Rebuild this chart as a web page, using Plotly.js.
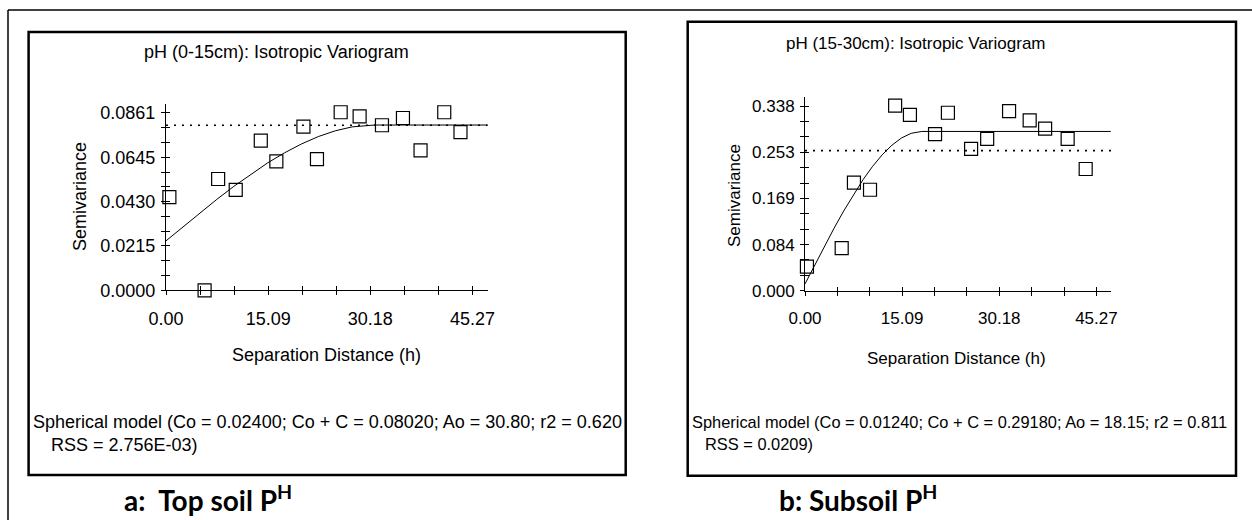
<!DOCTYPE html>
<html>
<head>
<meta charset="utf-8">
<script src="https://cdn.plot.ly/plotly-3.0.1.min.js"></script>
<style>
html,body{margin:0;padding:0;background:#fff;}
#chart{width:1252px;height:520px;}
</style>
</head>
<body>
<div id="chart"></div>
<script>
// ---------- data ----------
// Panel a: Top soil pH (0-15 cm)
const topLag      = [0.5, 5.7, 7.7, 10.3, 14.0, 16.3, 20.3, 22.3, 25.8, 28.6, 31.9, 35.0, 37.6, 41.1, 43.5];
const topGamma    = [0.0452, 0.0000, 0.0540, 0.0487, 0.0726, 0.0626, 0.0794, 0.0637, 0.0864, 0.0844, 0.0801, 0.0836, 0.0679, 0.0864, 0.0768];
const topModelLag = [0, 2.5, 5, 7.5, 10, 12.5, 15, 17.5, 20, 22.5, 25, 27.5, 30, 30.8, 47.5];
const topModelGam = [0.0240, 0.0308, 0.0376, 0.0441, 0.0504, 0.0563, 0.0618, 0.0667, 0.0710, 0.0746, 0.0774, 0.0793, 0.0801, 0.0802, 0.0802];
const topVariance = 0.0801;
const topYLabels  = ['0.0000', '0.0215', '0.0430', '0.0645', '0.0861'];

// Panel b: Subsoil pH (15-30 cm)
const subLag      = [0.3, 5.7, 7.6, 10.1, 14.0, 16.3, 20.2, 22.2, 25.8, 28.3, 31.7, 34.9, 37.3, 40.8, 43.6];
const subGamma    = [0.044, 0.078, 0.198, 0.185, 0.339, 0.322, 0.287, 0.326, 0.260, 0.278, 0.329, 0.312, 0.297, 0.278, 0.223];
const subModelLag = [0, 1.5, 3, 4.5, 6, 7.5, 9, 10.5, 12, 13.5, 15, 16.5, 18.15, 47.5];
const subModelGam = [0.0124, 0.0470, 0.0810, 0.1142, 0.1459, 0.1757, 0.2032, 0.2278, 0.2491, 0.2666, 0.2799, 0.2884, 0.2918, 0.2918];
const subVariance = 0.2566;
const subYLabels  = ['0.000', '0.084', '0.169', '0.253', '0.338'];

const xLabels = ['0.00', '15.09', '30.18', '45.27'];

// ---------- helpers ----------
const W = 1252, H = 520;
const px = v => v / W;
const py = v => 1 - v / H;
const FONT = 'Liberation Sans, Arial, sans-serif';
const FS_A = 18;   // panel a text size
const FS_B = 17;   // panel b text size (panel b is drawn slightly smaller)

function ticksFrom(labels, sub) {
  const major = [], minor = [];
  const last = parseFloat(labels[labels.length - 1]);
  const n = (labels.length - 1) * sub;
  for (let i = 0; i <= n; i++) {
    const v = last * i / n;
    if (i % sub === 0) major.push(v); else minor.push(v);
  }
  return {major, minor, text: labels.slice()};
}
const xT = ticksFrom(xLabels, 3);
const topYT = ticksFrom(topYLabels, 3);
const subYT = ticksFrom(subYLabels, 3);
const xMax = parseFloat(xLabels[xLabels.length - 1]) * 1.05;
const topYMax = parseFloat(topYLabels[topYLabels.length - 1]) * 1.05;
const subYMax = parseFloat(subYLabels[subYLabels.length - 1]) * 1.05;

function mainAxis(dom, range, t, anchor, isY, fs) {
  return {
    domain: dom, range: range, anchor: anchor,
    tickmode: 'array', tickvals: t.major, ticktext: t.text,
    ticks: 'outside', ticklen: 4, tickwidth: 1, tickcolor: '#000',
    minor: {tickmode: 'array', tickvals: t.minor, ticks: 'outside', ticklen: 4, tickwidth: 1, tickcolor: '#000', showgrid: false},
    showline: true, linecolor: '#000', linewidth: 1,
    showgrid: false, zeroline: false, fixedrange: true,
    tickfont: {family: FONT, size: fs, color: '#000'},
    ticklabelstandoff: isY ? 2 : 8
  };
}
function overlayAxis(over, dom, range, t, anchor, side) {
  return {
    overlaying: over, domain: dom, range: range, anchor: anchor, side: side,
    tickmode: 'array', tickvals: t.major,
    ticks: 'inside', ticklen: 4, tickwidth: 1, tickcolor: '#000',
    minor: {tickmode: 'array', tickvals: t.minor, ticks: 'inside', ticklen: 4, tickwidth: 1, tickcolor: '#000', showgrid: false},
    showticklabels: false, showline: false, showgrid: false, zeroline: false, fixedrange: true
  };
}

const topXDom = [px(166), px(487.8)];
const topYDom = [py(290.3), py(104.0)];
const subXDom = [px(805), px(1111)];
const subYDom = [py(290.7), py(97.0)];

const markerStyle = {symbol: 'square-open', size: 13, color: '#000', line: {width: 1.2, color: '#000'}};
const dotStyle = {color: '#000', width: 1.6, dash: '2px,6px'};

const traces = [
  // panel a
  {x: topModelLag, y: topModelGam, xaxis: 'x', yaxis: 'y', mode: 'lines', line: {color: '#000', width: 1}, hoverinfo: 'skip'},
  {x: [0, xMax], y: [topVariance, topVariance], xaxis: 'x3', yaxis: 'y3', mode: 'lines', line: dotStyle, hoverinfo: 'skip'},
  {x: topLag, y: topGamma, xaxis: 'x', yaxis: 'y', mode: 'markers', marker: markerStyle, cliponaxis: false},
  // panel b
  {x: subModelLag, y: subModelGam, xaxis: 'x2', yaxis: 'y2', mode: 'lines', line: {color: '#000', width: 1}, hoverinfo: 'skip'},
  {x: [0, xMax], y: [subVariance, subVariance], xaxis: 'x4', yaxis: 'y4', mode: 'lines', line: dotStyle, hoverinfo: 'skip'},
  {x: subLag, y: subGamma, xaxis: 'x2', yaxis: 'y2', mode: 'markers', marker: markerStyle, cliponaxis: false}
];

function ann(text, x, y, fs, opts) {
  return Object.assign({
    text: text, x: px(x), y: py(y), xref: 'paper', yref: 'paper',
    showarrow: false, xanchor: 'center', yanchor: 'middle',
    font: {family: FONT, size: fs, color: '#000'}
  }, opts || {});
}
const capFont = {family: 'Lato, Open Sans, sans-serif', size: 28, color: '#000'};

const annotations = [
  ann('pH (0-15cm): Isotropic Variogram', 276.5, 52, FS_A),
  ann('pH (15-30cm): Isotropic Variogram', 916, 43, FS_B),
  ann('Semivariance', 80, 197, FS_A, {textangle: -90}),
  ann('Semivariance', 734, 196, FS_B, {textangle: -90}),
  ann('Separation Distance (h)', 326.5, 355, FS_A),
  ann('Separation Distance (h)', 956.5, 358, FS_B),
  ann('Spherical model (Co = 0.02400; Co + C = 0.08020; Ao = 30.80; r2 = 0.620', 31, 422, FS_A, {xanchor: 'left'}),
  ann('RSS = 2.756E-03)', 49, 445, FS_A, {xanchor: 'left'}),
  ann('Spherical model (Co = 0.01240; Co + C = 0.29180; Ao = 18.15; r2 = 0.811', 690, 422, 16.4, {xanchor: 'left'}),
  ann('RSS = 0.0209)', 703, 444, 16.4, {xanchor: 'left'}),
  ann('<b>a:  Top soil P<sup>H</sup></b>', 122, 498, 28, {xanchor: 'left', font: capFont}),
  ann('<b>b: Subsoil P<sup>H</sup></b>', 777, 498, 28, {xanchor: 'left', font: capFont})
];

const shapes = [
  // outer frame (top and left edges)
  {type: 'line', xref: 'paper', yref: 'paper', x0: px(8), x1: 1, y0: py(10), y1: py(10), line: {color: '#000', width: 1.5}},
  {type: 'line', xref: 'paper', yref: 'paper', x0: px(8), x1: px(8), y0: py(10), y1: 0, line: {color: '#000', width: 1.5}},
  // panel boxes
  {type: 'rect', xref: 'paper', yref: 'paper', x0: px(28.6), x1: px(625.7), y0: py(475), y1: py(32), line: {color: '#000', width: 2.5}},
  {type: 'rect', xref: 'paper', yref: 'paper', x0: px(687.7), x1: px(1236), y0: py(475.7), y1: py(21.7), line: {color: '#000', width: 2.5}}
];

const layout = {
  width: W, height: H,
  margin: {l: 0, r: 0, t: 0, b: 0, pad: 0},
  paper_bgcolor: '#fff', plot_bgcolor: 'rgba(0,0,0,0)',
  showlegend: false,
  font: {family: FONT, size: FS_A, color: '#000'},
  xaxis:  mainAxis(topXDom, [0, xMax], xT, 'y', false, FS_A),
  yaxis:  mainAxis(topYDom, [0, topYMax], topYT, 'x', true, FS_A),
  xaxis2: mainAxis(subXDom, [0, xMax], xT, 'y2', false, FS_B),
  yaxis2: mainAxis(subYDom, [0, subYMax], subYT, 'x2', true, FS_B),
  xaxis3: overlayAxis('x', topXDom, [0, xMax], xT, 'y', 'bottom'),
  yaxis3: overlayAxis('y', topYDom, [0, topYMax], topYT, 'x', 'left'),
  xaxis4: overlayAxis('x2', subXDom, [0, xMax], xT, 'y2', 'bottom'),
  yaxis4: overlayAxis('y2', subYDom, [0, subYMax], subYT, 'x2', 'left'),
  annotations: annotations,
  shapes: shapes
};

Plotly.newPlot('chart', traces, layout, {staticPlot: true, displayModeBar: false});
</script>
</body>
</html>
